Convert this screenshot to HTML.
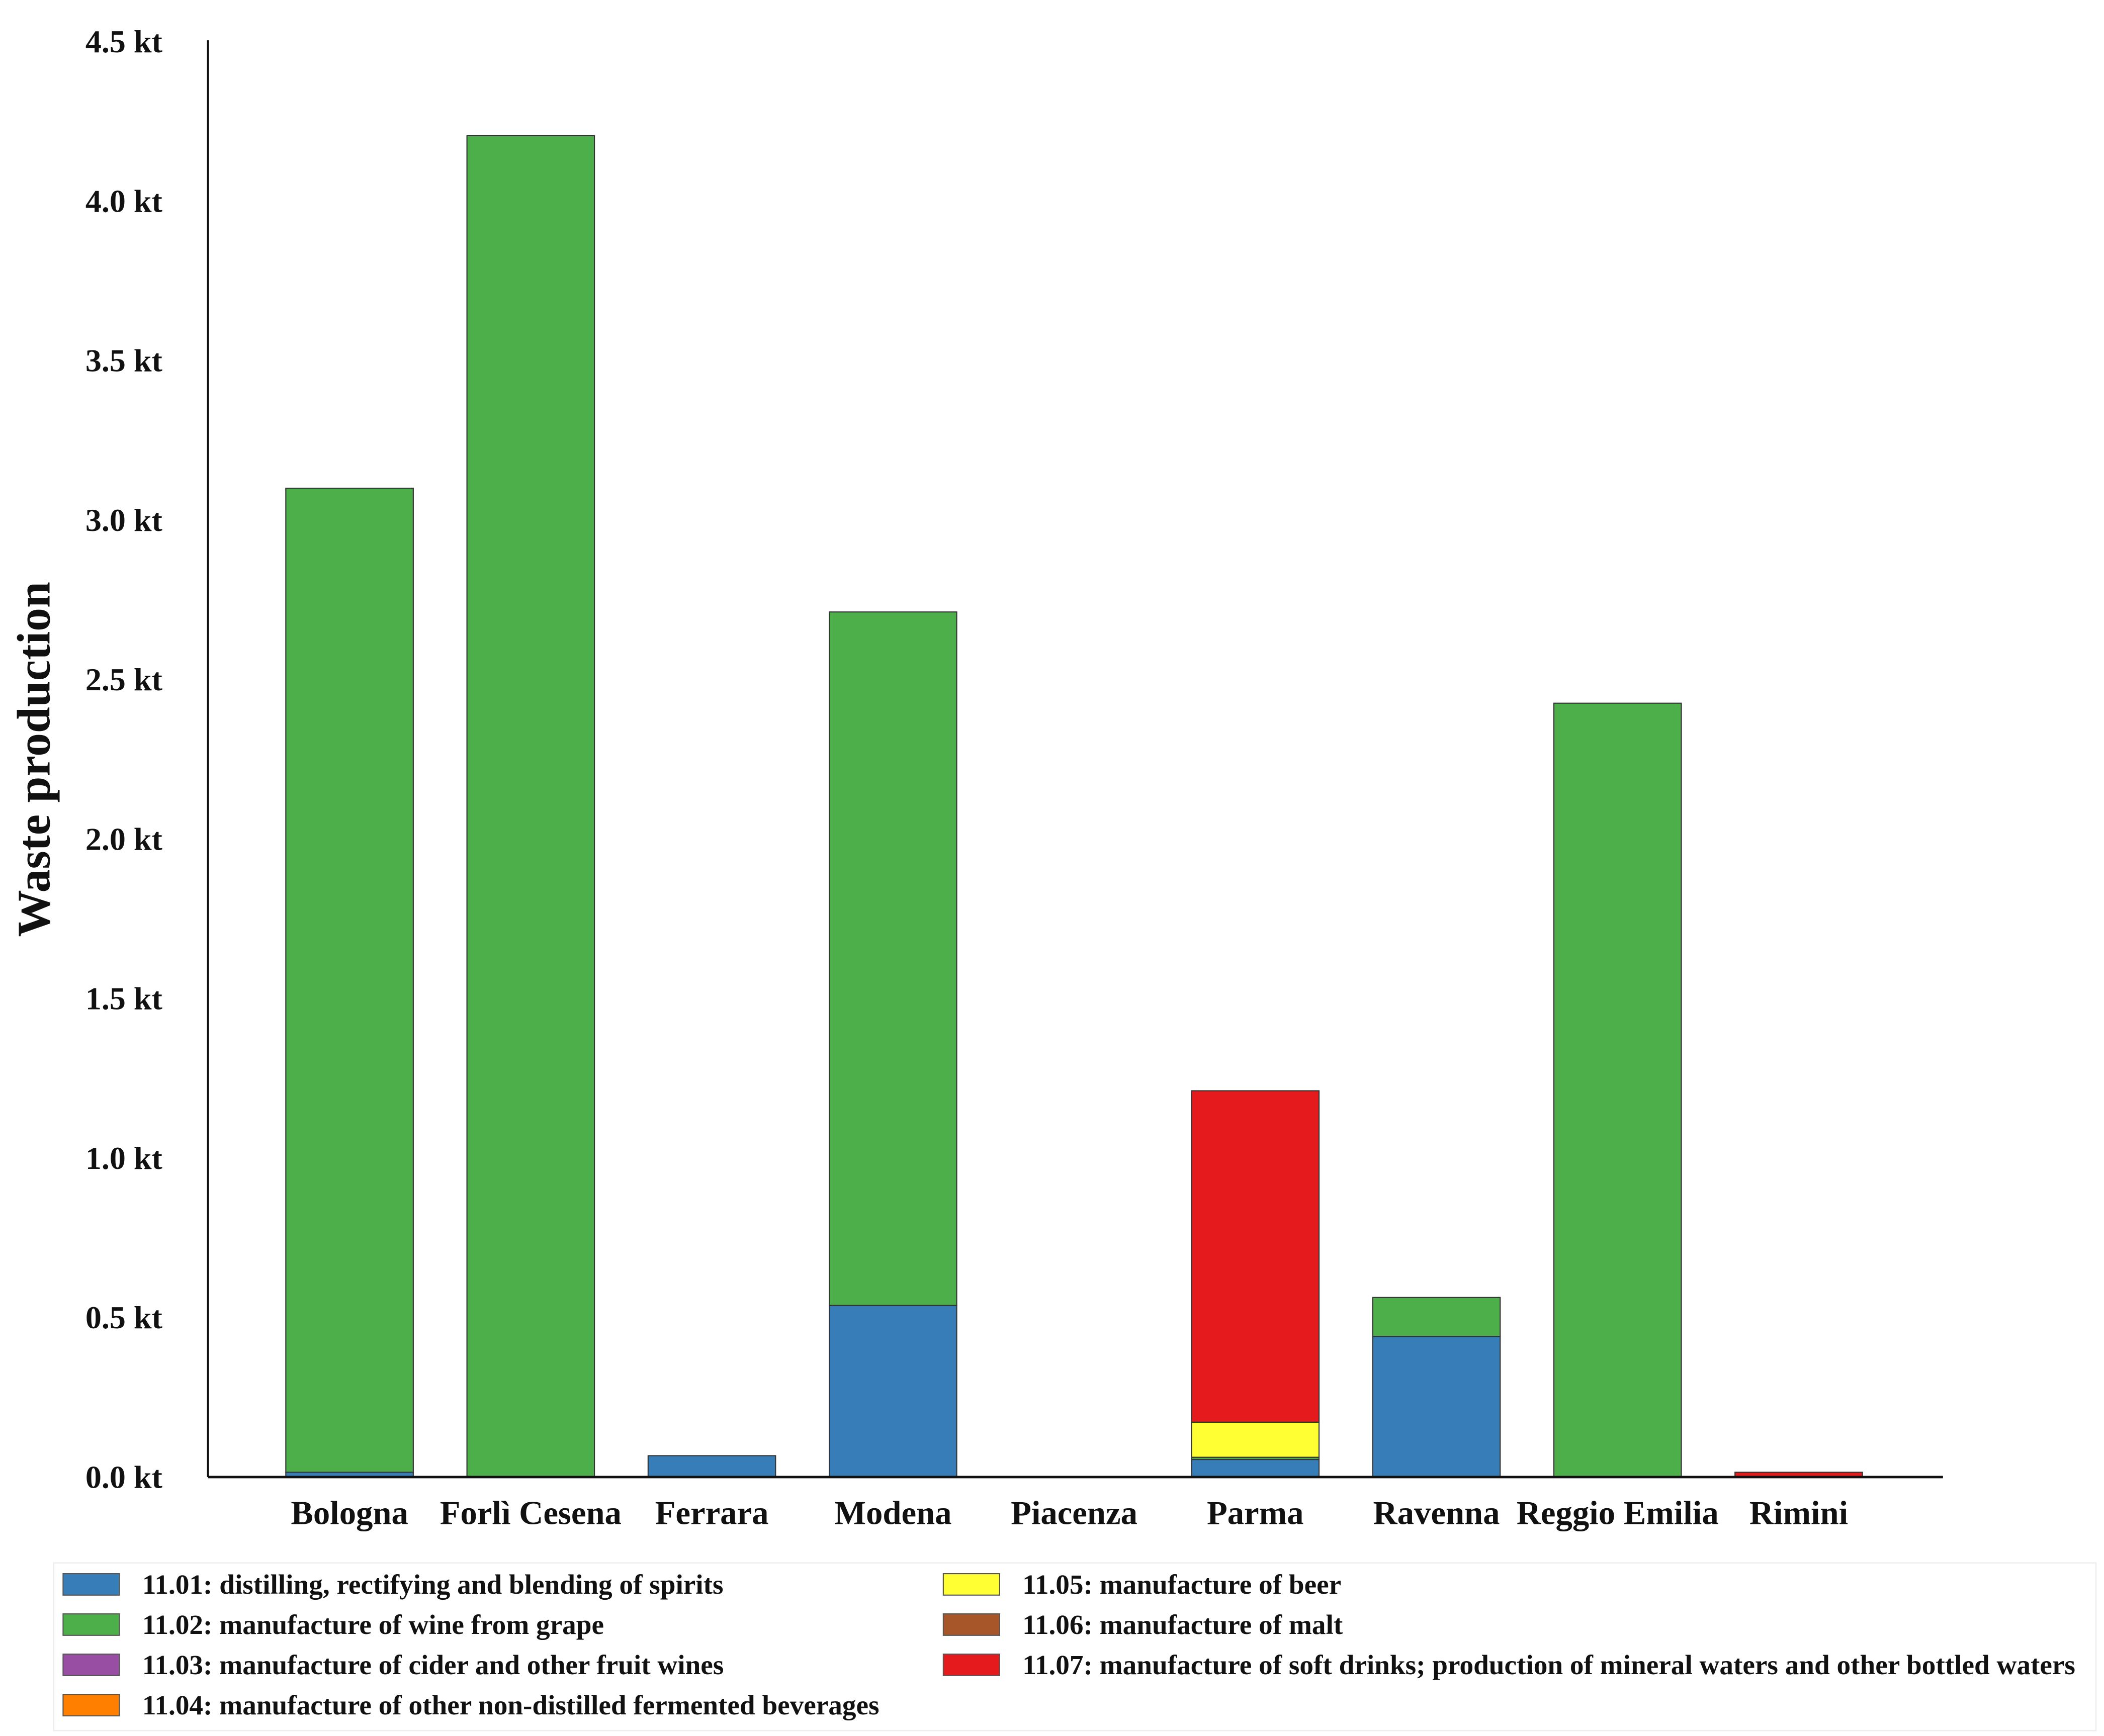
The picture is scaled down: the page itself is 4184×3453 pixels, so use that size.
<!DOCTYPE html>
<html><head><meta charset="utf-8"><style>
html,body{margin:0;padding:0;background:#fff;}
svg{display:block;}
text{font-family:"Liberation Serif",serif;font-weight:bold;fill:#111;}
</style></head><body>
<svg id="chart" width="4184" height="3453" viewBox="0 0 1568 1294" xmlns="http://www.w3.org/2000/svg">
<g id="bars"></g>
<line x1="155" y1="30" x2="155" y2="1101" stroke="#111" stroke-width="1.5"/>
<line x1="155" y1="1101" x2="1448" y2="1101" stroke="#111" stroke-width="1.8"/>
<g id="yticks"></g>
<g id="xticks"></g>
<text transform="translate(37,566) rotate(-90)" text-anchor="middle" font-size="35">Waste production</text>
<rect x="40" y="1165" width="1522" height="125" fill="#fff" stroke="#eee" stroke-width="1"/>
<g id="legend"></g>
</svg>
<script>
const categories = ["Bologna","Forlì Cesena","Ferrara","Modena","Piacenza","Parma","Ravenna","Reggio Emilia","Rimini"];
const seriesNames = ["11.01: distilling, rectifying and blending of spirits","11.02: manufacture of wine from grape","11.03: manufacture of cider and other fruit wines","11.04: manufacture of other non-distilled fermented beverages","11.05: manufacture of beer","11.06: manufacture of malt","11.07: manufacture of soft drinks; production of mineral waters and other bottled waters"];
const seriesColors = ["#377eb8","#4daf4a","#984ea3","#ff7f00","#ffff33","#a65628","#e41a1c"];
const s1101 = [0.015,0,0.067,0.538,0,0.055,0.441,0,0];
const s1102 = [3.085,4.205,0,2.174,0,0.007,0.122,2.426,0];
const s1103 = [0,0,0,0,0,0,0,0,0];
const s1104 = [0,0,0,0,0,0,0,0,0];
const s1105 = [0,0,0,0,0,0.11,0,0,0];
const s1106 = [0,0,0,0,0,0,0,0,0];
const s1107 = [0,0,0,0,0,1.039,0,0,0.015];
const yTicks = [0,0.5,1.0,1.5,2.0,2.5,3.0,3.5,4.0,4.5];

const NS="http://www.w3.org/2000/svg";
const series=[s1101,s1102,s1103,s1104,s1105,s1106,s1107];
const y0=1101, yTop=31, yMax=4.5;
function yScale(v){return y0-(v/yMax)*(y0-yTop);}
function xScale(i){return 260.5+135*i;}
const bw=95;
function mk(tag,attrs,parent){const e=document.createElementNS(NS,tag);for(const k in attrs)e.setAttribute(k,attrs[k]);parent.appendChild(e);return e;}
const gb=document.getElementById('bars');
categories.forEach((c,i)=>{
  let acc=0;
  series.forEach((s,j)=>{
    const v=s[i]; if(!v) return;
    const top=yScale(acc+v), bot=yScale(acc);
    const r=mk('rect',{x:xScale(i)-bw/2,y:top,width:bw,height:bot-top,fill:seriesColors[j],stroke:'#333','stroke-width':0.8},gb);
    
    
    acc+=v;
  });
});
const gy=document.getElementById('yticks');
yTicks.forEach(t=>{
  const e=mk('text',{x:121,y:yScale(t)+8,'text-anchor':'end','font-size':24},gy);
  e.textContent=t.toFixed(1)+' kt';
  
  
});
const gx=document.getElementById('xticks');
categories.forEach((c,i)=>{
  const e=mk('text',{x:xScale(i),y:1136,'text-anchor':'middle','font-size':25},gx);
  e.textContent=c;
  
  
});
const gl=document.getElementById('legend');
seriesNames.forEach((n,j)=>{
  const col=j<4?0:1, row=j<4?j:j-4;
  const sx=col?703:47, tx=col?762:106, cy=1181+row*30;
  const sw=mk('rect',{x:sx,y:cy-8,width:42,height:16,fill:seriesColors[j],stroke:'#555','stroke-width':0.8},gl);
  
  
  const t=mk('text',{x:tx,y:cy+7,'font-size':20.7},gl);
  t.textContent=n;
  
  
});
</script>
</body></html>
